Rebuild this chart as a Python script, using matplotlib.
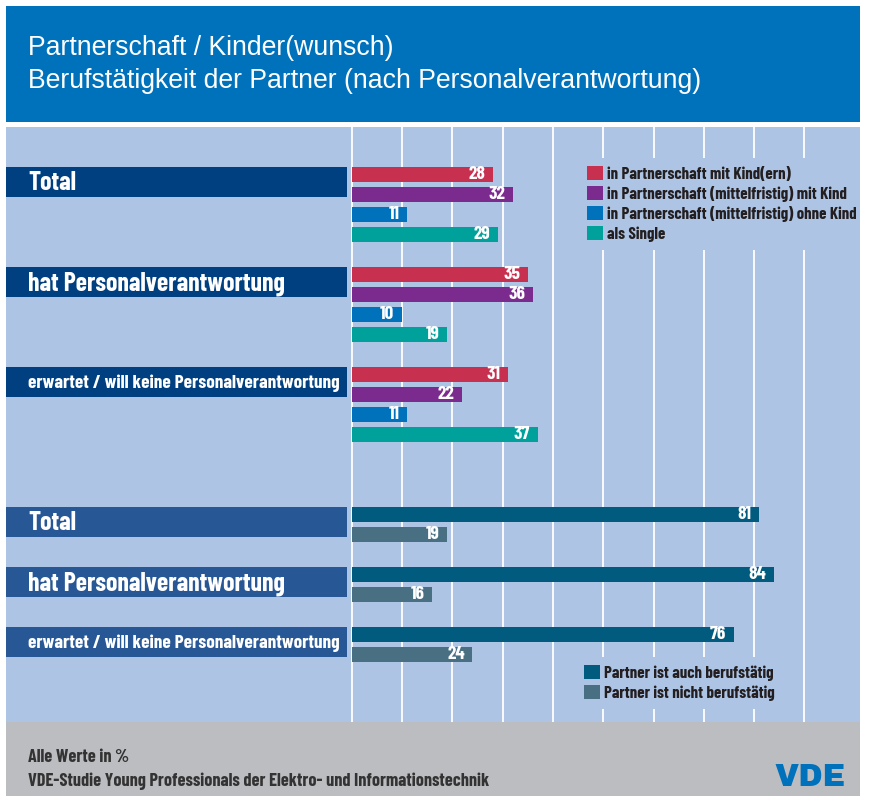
import matplotlib
matplotlib.use("Agg")
import matplotlib.pyplot as plt
from matplotlib.patches import Rectangle
import matplotlib.transforms as mtransforms

# data
groups = ["Total", "hat Personalverantwortung", "erwartet / will keine Personalverantwortung"]

top_series = [
    "in Partnerschaft mit Kind(ern)",
    "in Partnerschaft (mittelfristig) mit Kind",
    "in Partnerschaft (mittelfristig) ohne Kind",
    "als Single",
]
mit_kind = [28, 35, 31]
mittelfristig_mit_kind = [32, 36, 22]
mittelfristig_ohne_kind = [11, 10, 11]
als_single = [29, 19, 37]

bottom_series = ["Partner ist auch berufstätig", "Partner ist nicht berufstätig"]
auch_berufstaetig = [81, 84, 76]
nicht_berufstaetig = [19, 16, 24]

xticks = list(range(0, 100, 10))

title_lines = ["Partnerschaft / Kinder(wunsch)",
               "Berufstätigkeit der Partner (nach Personalverantwortung)"]
footer_lines = ["Alle Werte in %",
                "VDE-Studie Young Professionals der Elektro- und Informationstechnik"]

# styles
W, H = 871, 796
header_blue = "#0072bc"
bg_blue = "#adc4e4"
footer_gray = "#bcbdc0"
band_top = "#003f80"
band_bottom = "#275795"
top_colors = ["#c83050", "#7b2a8e", "#0071bb", "#00a19b"]
bottom_colors = ["#005b7f", "#487082"]
text_dark = "#231f20"

narrow = ["Barlow Condensed", "DejaVu Sans"]
plain = ["Liberation Sans", "DejaVu Sans"]
nweight = 700


def fx(px):
    return px / W


def fy(py):
    return 1 - py / H


fig = plt.figure(figsize=(W / 100, H / 100), dpi=100, facecolor="white")

# header and footer blocks
fig.patches.append(Rectangle((fx(6), fy(122)), fx(854), 116 / H, transform=fig.transFigure,
                             facecolor=header_blue, edgecolor="none", zorder=0))
fig.patches.append(Rectangle((fx(6), 0), fx(854), 74 / H, transform=fig.transFigure,
                             facecolor=footer_gray, edgecolor="none", zorder=0))

for line, y in zip(title_lines, [48, 81]):
    fig.text(fx(28), fy(y), line, color="white", fontsize=19.2, family=plain,
             va="center", ha="left")

ax = fig.add_axes([fx(6), fy(722), fx(854), (722 - 127) / H])
ax.set_facecolor(bg_blue)
ax.set_xlim(-68.73, 101.05)
ax.set_ylim(722, 127)  # pixel rows, top down
for s in ax.spines.values():
    s.set_visible(False)
ax.set_axisbelow(True)
ax.grid(axis="x", color="white", lw=1.3)
ax.set_xticks(xticks)
ax.set_xticklabels([str(t) for t in xticks], color="white", fontsize=7, family=plain)
ax.tick_params(axis="x", length=0, pad=5.5)
ax.set_yticks([])

bar_h = 15
row = 20
blend = mtransforms.blended_transform_factory(ax.transAxes, ax.transData)
band_right = (347 - 6) / 854


def draw_block(series_vals, names, colors, first_y, group_step, band_color, label_sizes):
    containers = []
    for gi, g in enumerate(groups):
        y0 = first_y + gi * group_step
        ax.add_patch(Rectangle((0, y0 - bar_h / 2), band_right, 2 * row - bar_h / 2 - 2.5,
                               transform=blend, facecolor=band_color, edgecolor="none"))
        ax.text((28 - 6) / 854, y0 + 9, g, transform=blend, color="white",
                fontsize=label_sizes[gi], fontweight=nweight, family=narrow,
                va="center", ha="left")
    for si, (vals, name, c) in enumerate(zip(series_vals, names, colors)):
        ys = [first_y + gi * group_step + si * row for gi in range(len(groups))]
        cont = ax.barh(ys, vals, height=bar_h, color=c, label=name, zorder=2)
        containers.append(cont)
        for y, v in zip(ys, vals):
            ax.annotate(str(v), (v, y), xytext=(-5.5, 0), textcoords="offset points",
                        ha="right", va="center", color="white", fontsize=13.8,
                        fontweight=nweight, family=narrow, zorder=3)
    return containers


top = draw_block([mit_kind, mittelfristig_mit_kind, mittelfristig_ohne_kind, als_single],
                 top_series, top_colors, 174.5, 100, band_top, [18.6, 18.6, 13.8])
bottom = draw_block([auch_berufstaetig, nicht_berufstaetig], bottom_series, bottom_colors,
                    514.5, 60, band_bottom, [18.6, 18.6, 13.8])

leg_kw = dict(loc="upper left", frameon=True, facecolor=bg_blue,
              edgecolor="none", framealpha=1, fancybox=False, borderaxespad=0,
              handlelength=0.9, handleheight=0.9, handletextpad=0.25,
              labelspacing=0.24, borderpad=0.5,
              prop={"family": narrow, "weight": nweight, "size": 12.1})
leg1 = ax.legend(handles=top, bbox_to_anchor=(fx(579), fy(158)),
                 bbox_transform=fig.transFigure, **leg_kw)
for t in leg1.get_texts():
    t.set_color(text_dark)
leg1.legendPatch.set_clip_path(ax.patch)
ax.add_artist(leg1)
leg2 = ax.legend(handles=bottom, bbox_to_anchor=(fx(576), fy(657)),
                 bbox_transform=fig.transFigure, **leg_kw)
for t in leg2.get_texts():
    t.set_color(text_dark)

for line, y in zip(footer_lines, [758, 781]):
    fig.text(fx(28), fy(y), line, color="#333333", fontsize=13.1, fontweight=nweight,
             family=narrow, va="center", ha="left")

fig.text(fx(846), fy(778), "VDE", color="#0071bb", fontsize=22.5,
         family=["Archivo Black", "DejaVu Sans"], fontweight="heavy", va="center", ha="right")

fig.savefig("out.png", dpi=100, facecolor="white")
